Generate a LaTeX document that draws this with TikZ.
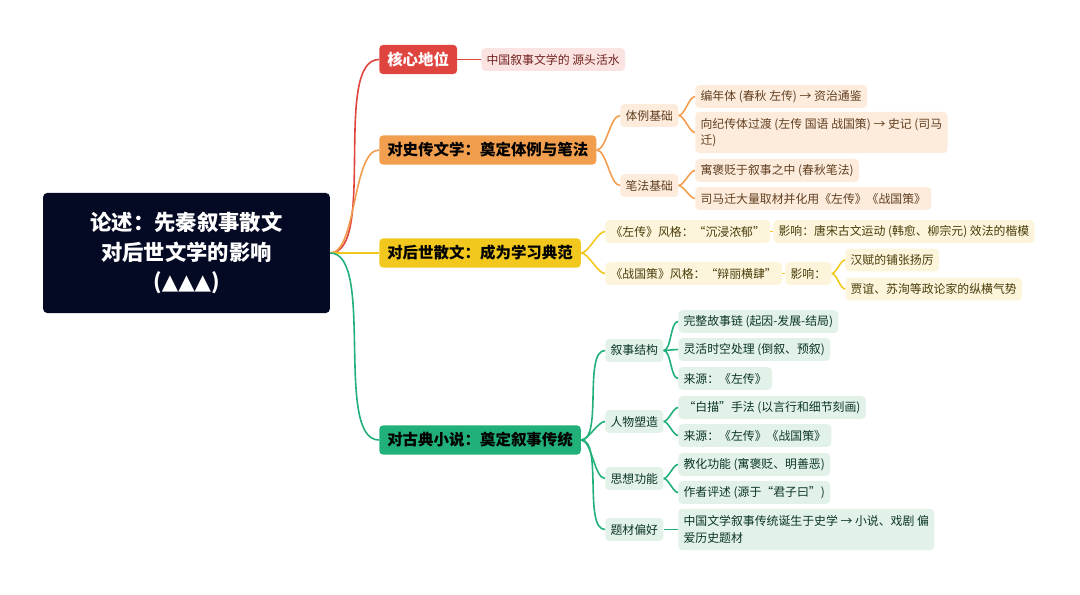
\documentclass[tikz,border=0pt]{standalone}
\usepackage{fontspec}
\setmainfont{Noto Sans CJK SC}
\newfontfamily\dvs{DejaVu Sans}
\begin{document}
\begin{tikzpicture}[x=0.75pt,y=-0.75pt,
  root/.style={fill=rootc,rounded corners=3pt,text=white,font=\fontsize{16}{22}\selectfont\bfseries,align=center,minimum width=215pt,minimum height=90pt,inner sep=0pt},
  br/.style={fill=#1,rounded corners=3pt,font=\fontsize{11.6}{13}\selectfont\bfseries,minimum height=22pt,inner xsep=6pt,anchor=west},
  lf/.style={fill=#1,rounded corners=3pt,font=\fontsize{8.9}{12.5}\selectfont,minimum height=17pt,inner xsep=4pt,anchor=west,align=left},
  ed/.style={draw=#1,line width=1.2pt}]
\definecolor{rootc}{HTML}{050A24}
\definecolor{rc}{HTML}{E0443E}\definecolor{rl}{HTML}{FBE3E1}
\definecolor{oc}{HTML}{F19E4F}\definecolor{ol}{HTML}{FDEBDC}
\definecolor{yc}{HTML}{F2C81E}\definecolor{yl}{HTML}{FCF5DC}
\definecolor{gc}{HTML}{22B07A}\definecolor{gl}{HTML}{E3F2E8}
\useasboundingbox (0,0) rectangle (1080,595);
\node[root] (root) at (186.5,253) {论述：先秦叙事散文\\对后世文学的影响\\({\dvs ▲▲▲})};
% branch 1
\node[br=rc,text=white] (b1) at (379,59.5) {核心地位};
\node[lf=rl,text=rc!50!black] (b1a) at (481,59.5) {中国叙事文学的 源头活水};
% branch 2
\node[br=oc,text=black] (b2) at (379,150) {对史传文学：奠定体例与笔法};
\node[lf=ol,text=oc!40!black] (s21) at (620,115.5) {体例基础};
\node[lf=ol,text=oc!40!black] (s22) at (620,185.5) {笔法基础};
\node[lf=ol,text=oc!40!black] (l211) at (695,96.5) {编年体 (春秋 左传) → 资治通鉴};
\node[lf=ol,text=oc!40!black,minimum height=31pt] (l212) at (695,132.5) {向纪传体过渡 (左传 国语 战国策) → 史记 (司马\\迁)};
\node[lf=ol,text=oc!40!black] (l221) at (695,170.5) {寓褒贬于叙事之中 (春秋笔法)};
\node[lf=ol,text=oc!40!black] (l222) at (695,198.5) {司马迁大量取材并化用《左传》《战国策》};
% branch 3
\node[br=yc,text=black] (b3) at (379,253) {对后世散文：成为学习典范};
\node[lf=yl,text=yc!30!black] (s31) at (605,231.5) {《左传》风格：“沉浸浓郁”};
\node[lf=yl,text=yc!30!black] (l311) at (773,231.5) {影响：唐宋古文运动 (韩愈、柳宗元) 效法的楷模};
\node[lf=yl,text=yc!30!black] (s32) at (605,273.5) {《战国策》风格：“辩丽横肆”};
\node[lf=yl,text=yc!30!black] (s321) at (785,273.5) {影响：};
\node[lf=yl,text=yc!30!black] (l3211) at (845,260) {汉赋的铺张扬厉};
\node[lf=yl,text=yc!30!black] (l3212) at (845,289) {贾谊、苏洵等政论家的纵横气势};
% branch 4
\node[br=gc,text=black] (b4) at (379,440) {对古典小说：奠定叙事传统};
\node[lf=gl,text=gc!30!black] (s41) at (605,350.5) {叙事结构};
\node[lf=gl,text=gc!30!black] (s42) at (605,421.5) {人物塑造};
\node[lf=gl,text=gc!30!black] (s43) at (605,478.5) {思想功能};
\node[lf=gl,text=gc!30!black] (s44) at (605,529.5) {题材偏好};
\node[lf=gl,text=gc!30!black] (l411) at (678,321.5) {完整故事链 (起因-发展-结局)};
\node[lf=gl,text=gc!30!black] (l412) at (678,349.5) {灵活时空处理 (倒叙、预叙)};
\node[lf=gl,text=gc!30!black] (l413) at (678,378.5) {来源：《左传》};
\node[lf=gl,text=gc!30!black] (l421) at (678,407.5) {“白描”手法 (以言行和细节刻画)};
\node[lf=gl,text=gc!30!black] (l422) at (678,435.5) {来源：《左传》《战国策》};
\node[lf=gl,text=gc!30!black] (l431) at (678,464.5) {教化功能 (寓褒贬、明善恶)};
\node[lf=gl,text=gc!30!black] (l432) at (678,492.5) {作者评述 (源于“君子曰”)};
\node[lf=gl,text=gc!30!black,minimum height=31pt] (l441) at (678,529.5) {中国文学叙事传统诞生于史学 → 小说、戏剧 偏\\爱历史题材};
% edges
\foreach \a/\b/\c in {root/b1/rc,b1/b1a/rc,root/b2/oc,b2/s21/oc,b2/s22/oc,s21/l211/oc,s21/l212/oc,s22/l221/oc,s22/l222/oc,
 root/b3/yc,b3/s31/yc,b3/s32/yc,s31/l311/yc,s32/s321/yc,s321/l3211/yc,s321/l3212/yc,
 root/b4/gc,b4/s41/gc,b4/s42/gc,b4/s43/gc,b4/s44/gc,s41/l411/gc,s41/l412/gc,s41/l413/gc,s42/l421/gc,s42/l422/gc,s43/l431/gc,s43/l432/gc,s44/l441/gc}
  \draw[ed=\c] (\a.east) to[out=0,in=180,looseness=0.6] (\b.west);
\end{tikzpicture}
\end{document}
